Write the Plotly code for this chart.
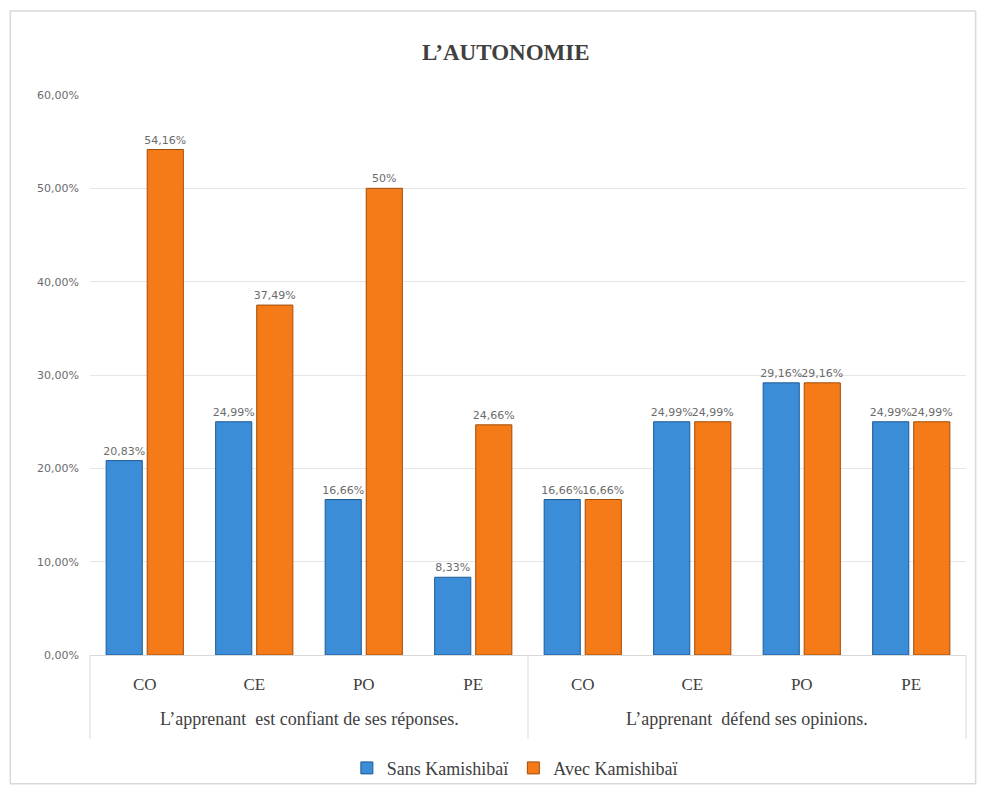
import plotly.graph_objects as go

group_labels = ["L’apprenant  est confiant de ses réponses.", "L’apprenant  défend ses opinions."]
cat_ids = ["g1-CO", "g1-CE", "g1-PO", "g1-PE", "g2-CO", "g2-CE", "g2-PO", "g2-PE"]
skills = ["CO", "CE", "PO", "PE", "CO", "CE", "PO", "PE"]
sans = [20.83, 24.99, 16.66, 8.33, 16.66, 24.99, 29.16, 24.99]
avec = [54.16, 37.49, 50, 24.66, 16.66, 24.99, 29.16, 24.99]
sans_text = ["20,83%", "24,99%", "16,66%", "8,33%", "16,66%", "24,99%", "29,16%", "24,99%"]
avec_text = ["54,16%", "37,49%", "50%", "24,66%", "16,66%", "24,99%", "29,16%", "24,99%"]
yticks = [0, 10, 20, 30, 40, 50, 60]
yticktext = ["0,00%", "10,00%", "20,00%", "30,00%", "40,00%", "50,00%", "60,00%"]

FONT = "Liberation Serif"
SMALL = "DejaVu Sans"
GRID = "#d9d9d9"

fig = go.Figure()
fig.add_trace(go.Bar(
    name="Sans Kamishibaï", x=cat_ids, y=sans, text=sans_text,
    textposition="outside", cliponaxis=False, constraintext="none", textangle=0,
    textfont=dict(family=SMALL, size=11, color="#6b6b6b"),
    marker=dict(color="#3b8dd7", line=dict(color="#1f5a94", width=1)),
))
fig.add_trace(go.Bar(
    name="Avec Kamishibaï", x=cat_ids, y=avec, text=avec_text,
    textposition="outside", cliponaxis=False, constraintext="none", textangle=0,
    textfont=dict(family=SMALL, size=11, color="#6b6b6b"),
    marker=dict(color="#f47b18", line=dict(color="#a34c06", width=1)),
))

shapes = [dict(type="rect", xref="paper", yref="paper", x0=-0.091, x1=1.011, y0=-0.230, y1=1.150,
               line=dict(color=GRID, width=1.5), fillcolor="rgba(0,0,0,0)", layer="below")]
for xd in [0, 0.5, 1]:
    shapes.append(dict(type="line", xref="paper", yref="paper", x0=xd, x1=xd, y0=0, y1=-0.15,
                       line=dict(color=GRID, width=1)))

annotations = []
for i, g in enumerate(group_labels):
    annotations.append(dict(text=g, xref="paper", yref="paper", x=0.25 + 0.5 * i, y=-0.114,
                            xanchor="center", yanchor="middle", showarrow=False,
                            font=dict(family=FONT, size=18, color="#404040")))

fig.update_layout(
    width=986, height=797,
    paper_bgcolor="white", plot_bgcolor="white",
    margin=dict(l=90, r=20, t=95, b=141),
    barmode="group", bargap=0.25, bargroupgap=0.12,
    font=dict(family=FONT, color="#404040"),
    title=dict(text="<b>L’AUTONOMIE</b>", x=0.513, xanchor="center", y=0.935, yanchor="middle",
               font=dict(family=FONT, size=23, color="#404040")),
    legend=dict(orientation="h", x=0.485, xanchor="center", y=-0.2, yanchor="middle",
                font=dict(family=FONT, size=18, color="#404040"), traceorder="normal",
                itemwidth=30, bgcolor="rgba(0,0,0,0)"),
    shapes=shapes,
    annotations=annotations,
)
fig.update_xaxes(
    type="category", tickvals=cat_ids, ticktext=skills,
    showline=True, linecolor=GRID, linewidth=1,
    tickfont=dict(family=FONT, size=17, color="#404040"), ticks="", ticklabelstandoff=14,
)
fig.update_yaxes(
    range=[0, 60], tickvals=yticks, ticktext=yticktext,
    showgrid=True, gridcolor="#e6e6e6", gridwidth=1, zeroline=False,
    tickfont=dict(family=SMALL, size=11, color="#6b6b6b"), ticks="", ticklabelstandoff=10,
)

fig.write_html("out.html")
